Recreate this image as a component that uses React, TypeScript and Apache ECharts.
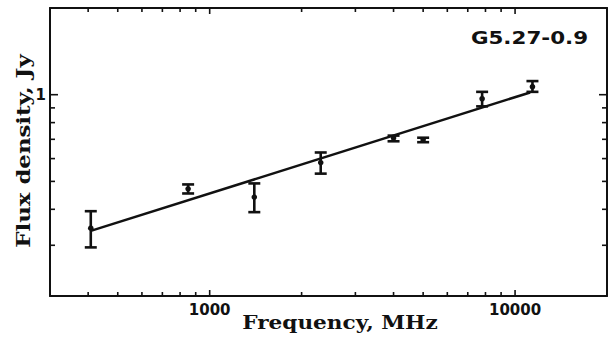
import React, { useEffect, useRef } from "react";
import * as echarts from "echarts";

// Observed spectrum of G5.27-0.9
const frequencies = [408, 850, 1400, 2310, 4000, 5000, 7800, 11400]; // MHz
const fluxes = [0.344, 0.471, 0.441, 0.581, 0.708, 0.697, 0.968, 1.066]; // Jy
const fluxLow = [0.295, 0.454, 0.391, 0.532, 0.689, 0.684, 0.911, 1.023];
const fluxHigh = [0.394, 0.488, 0.492, 0.63, 0.721, 0.709, 1.023, 1.115];

// Power-law fit line end points
const fitFrequencies = [408, 11200];
const fitFluxes = [0.3365, 1.018];

// Axis ranges and ticks
const xMin = 300;
const xMax = 20000;
const yMin = 0.2;
const yMax = 2;
const xMajorTicks = [1000, 10000];
const xMinorTicks = [400, 500, 600, 700, 800, 900, 2000, 3000, 4000, 5000, 6000, 7000, 8000, 9000];
const yMajorTicks = [1];
const yMinorTicks = [0.3, 0.4, 0.5, 0.6, 0.7, 0.8, 0.9];

const sourceName = "G5.27-0.9";
const xTitle = "Frequency, MHz";
const yTitle = "Flux density, Jy";

const INK = "#111";

export default function App() {
  const ref = useRef<HTMLDivElement>(null);

  useEffect(() => {
    document.body.style.margin = "0";
    const chart = echarts.init(ref.current!, null, { renderer: "svg" });

    const errData = frequencies.map((f, i) => [f, fluxes[i], fluxLow[i], fluxHigh[i]]);
    const xTickData = [
      ...xMajorTicks.map((v) => [v, 1, 6]),
      ...xMinorTicks.map((v) => [v, 1, 4]),
    ];
    const yTickData = [
      ...yMajorTicks.map((v) => [1000, v, 8]),
      ...yMinorTicks.map((v) => [1000, v, 5]),
    ];

    const axisLine = { show: true, lineStyle: { color: INK, width: 2 } };

    chart.setOption({
      animation: false,
      backgroundColor: "#fff",
      grid: { left: 50, right: 7, top: 8, bottom: 44, containLabel: false },
      xAxis: [
        {
          type: "log",
          logBase: 10,
          min: xMin,
          max: xMax,
          position: "bottom",
          axisLine,
          axisTick: { show: false },
          splitLine: { show: false },
          axisLabel: {
            margin: 6,
            color: INK,
            fontFamily: "DejaVu Sans",
            fontWeight: "bold",
            fontSize: 15,
            showMinLabel: false,
            showMaxLabel: false,
            formatter: (v: number) =>
              xMajorTicks.some((t) => Math.abs(v - t) < 1) ? String(Math.round(v)) : "",
          },
        },
        {
          type: "log",
          logBase: 10,
          min: xMin,
          max: xMax,
          position: "top",
          axisLine,
          axisTick: { show: false },
          splitLine: { show: false },
          axisLabel: { show: false },
        },
      ],
      yAxis: [
        {
          type: "log",
          logBase: 10,
          min: yMin,
          max: yMax,
          position: "left",
          axisLine,
          axisTick: { show: false },
          splitLine: { show: false },
          axisLabel: {
            margin: 4,
            color: INK,
            fontFamily: "DejaVu Sans",
            fontWeight: "bold",
            fontSize: 15,
            showMinLabel: false,
            showMaxLabel: false,
            formatter: (v: number) =>
              yMajorTicks.some((t) => Math.abs(v - t) < 1e-6) ? String(Math.round(v)) : "",
          },
        },
        {
          type: "log",
          logBase: 10,
          min: yMin,
          max: yMax,
          position: "right",
          axisLine,
          axisTick: { show: false },
          splitLine: { show: false },
          axisLabel: { show: false },
        },
      ],
      series: [
        {
          type: "custom",
          name: "xticks",
          xAxisIndex: 0,
          yAxisIndex: 0,
          silent: true,
          clip: false,
          data: xTickData,
          renderItem: (params: any, api: any) => {
            const v = api.value(0);
            const len = api.value(2);
            const b = api.coord([v, yMin]);
            const t = api.coord([v, yMax]);
            const st = { stroke: INK, lineWidth: 1.6 };
            return {
              type: "group",
              children: [
                { type: "line", shape: { x1: b[0], y1: b[1], x2: b[0], y2: b[1] - len }, style: st },
                { type: "line", shape: { x1: t[0], y1: t[1], x2: t[0], y2: t[1] + len }, style: st },
              ],
            };
          },
        },
        {
          type: "custom",
          name: "yticks",
          xAxisIndex: 0,
          yAxisIndex: 0,
          silent: true,
          clip: false,
          data: yTickData,
          renderItem: (params: any, api: any) => {
            const v = api.value(1);
            const len = api.value(2);
            const l = api.coord([xMin, v]);
            const r = api.coord([xMax, v]);
            const st = { stroke: INK, lineWidth: 1.6 };
            return {
              type: "group",
              children: [
                { type: "line", shape: { x1: l[0], y1: l[1], x2: l[0] + len, y2: l[1] }, style: st },
                { type: "line", shape: { x1: r[0], y1: r[1], x2: r[0] - len, y2: r[1] }, style: st },
              ],
            };
          },
        },
        {
          type: "line",
          name: "fit",
          data: fitFrequencies.map((f, i) => [f, fitFluxes[i]]),
          showSymbol: false,
          symbol: "none",
          lineStyle: { color: INK, width: 2.5 },
          silent: true,
        },
        {
          type: "custom",
          name: "data",
          silent: true,
          data: errData,
          renderItem: (params: any, api: any) => {
            const f = api.value(0);
            const top = api.coord([f, api.value(3)]);
            const bot = api.coord([f, api.value(2)]);
            const c = api.coord([f, api.value(1)]);
            const hw = 6;
            const st = { stroke: INK, lineWidth: 2.6 };
            return {
              type: "group",
              children: [
                { type: "line", shape: { x1: top[0], y1: top[1], x2: bot[0], y2: bot[1] }, style: st },
                { type: "line", shape: { x1: top[0] - hw, y1: top[1], x2: top[0] + hw, y2: top[1] }, style: st },
                { type: "line", shape: { x1: bot[0] - hw, y1: bot[1], x2: bot[0] + hw, y2: bot[1] }, style: st },
                { type: "circle", shape: { cx: c[0], cy: c[1], r: 2.8 }, style: { fill: INK } },
              ],
            };
          },
        },
      ],
      graphic: [
        {
          type: "text",
          x: 340,
          y: 323,
          scaleX: 1.2,
          style: {
            text: xTitle,
            font: "bold 18px 'DejaVu Serif'",
            fill: INK,
            textAlign: "center",
            textVerticalAlign: "middle",
            align: "center",
            verticalAlign: "middle",
          },
        },
        {
          type: "text",
          x: 24,
          y: 151,
          rotation: Math.PI / 2,
          scaleX: 1.27,
          style: {
            text: yTitle,
            font: "bold 18px 'DejaVu Serif'",
            fill: INK,
            textAlign: "center",
            textVerticalAlign: "middle",
            align: "center",
            verticalAlign: "middle",
          },
        },
        {
          type: "text",
          x: 529.5,
          y: 38,
          scaleX: 1.26,
          style: {
            text: sourceName,
            font: "bold 17px 'DejaVu Sans'",
            fill: INK,
            textAlign: "center",
            textVerticalAlign: "middle",
            align: "center",
            verticalAlign: "middle",
          },
        },
      ],
    });

    return () => chart.dispose();
  }, []);

  return (
    <div
      ref={ref}
      style={{ position: "fixed", left: 0, top: 0, width: 614, height: 340, background: "#fff" }}
    />
  );
}
